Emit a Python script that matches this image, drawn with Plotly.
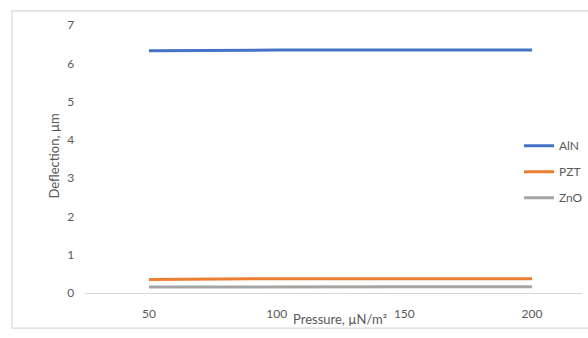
import plotly.graph_objects as go

pressure = ["50", "100", "150", "200"]
aln = [6.33, 6.35, 6.35, 6.35]
pzt = [0.35, 0.37, 0.37, 0.37]
zno = [0.15, 0.16, 0.16, 0.16]

series = [("AlN", aln, "#4472C4"), ("PZT", pzt, "#ED7D31"), ("ZnO", zno, "#A5A5A5")]

W, H = 588, 338
fig = go.Figure()
for i, (name, vals, col) in enumerate(series):
    fig.add_trace(go.Scatter(x=pressure, y=vals, name=name, mode="lines",
                             legendgroup=name,
                             line=dict(color=col, width=3)))

FF = "Lato, Liberation Sans, sans-serif"
font = dict(family=FF, size=12, color="#595959")
x0, x1 = 86 / W, 1.0
y0, y1 = (H - 298) / H, (H - 18) / H
fig.update_layout(
    width=W, height=H,
    margin=dict(l=0, r=0, t=0, b=0),
    paper_bgcolor="white", plot_bgcolor="white",
    font=font,
    showlegend=True,
    legend=dict(x=0.892, y=(H - 129) / H, xanchor="left", yanchor="top",
                bgcolor="rgba(0,0,0,0)", tracegroupgap=7,
                font=dict(family=FF, size=12, color="#595959")),
    xaxis=dict(type="category", domain=[x0, x1], range=[-0.5, 3.5 - 14 / 129],
               showgrid=False, showline=True, linecolor="#D9D9D9", linewidth=1,
               ticks="", ticklabelstandoff=10, zeroline=False),
    yaxis=dict(domain=[y0, y1], range=[0, 7], dtick=1, showgrid=False,
               showline=False, zeroline=False, ticks="", ticklabelstandoff=10),
    shapes=[dict(type="rect", xref="paper", yref="paper",
                 x0=12 / W, x1=1.2, y0=(H - 335) / H, y1=(H - 3) / H,
                 line=dict(color="#D9D9D9", width=1.2), layer="below")],
    annotations=[
        dict(text="Deflection, µm", xref="paper", yref="paper",
             x=55 / W, y=(H - 155) / H, xanchor="center", yanchor="middle",
             showarrow=False, textangle=-90,
             font=dict(family=FF, size=13, color="#595959")),
        dict(text="Pressure, µN/m²", xref="paper", yref="paper",
             x=344 / W, y=(H - 325) / H, xanchor="center", yanchor="middle",
             showarrow=False,
             font=dict(family=FF, size=13, color="#595959")),
    ],
)
fig.write_html("out.html",
               post_script="document.body.style.margin='0';document.body.style.overflow='hidden';")
